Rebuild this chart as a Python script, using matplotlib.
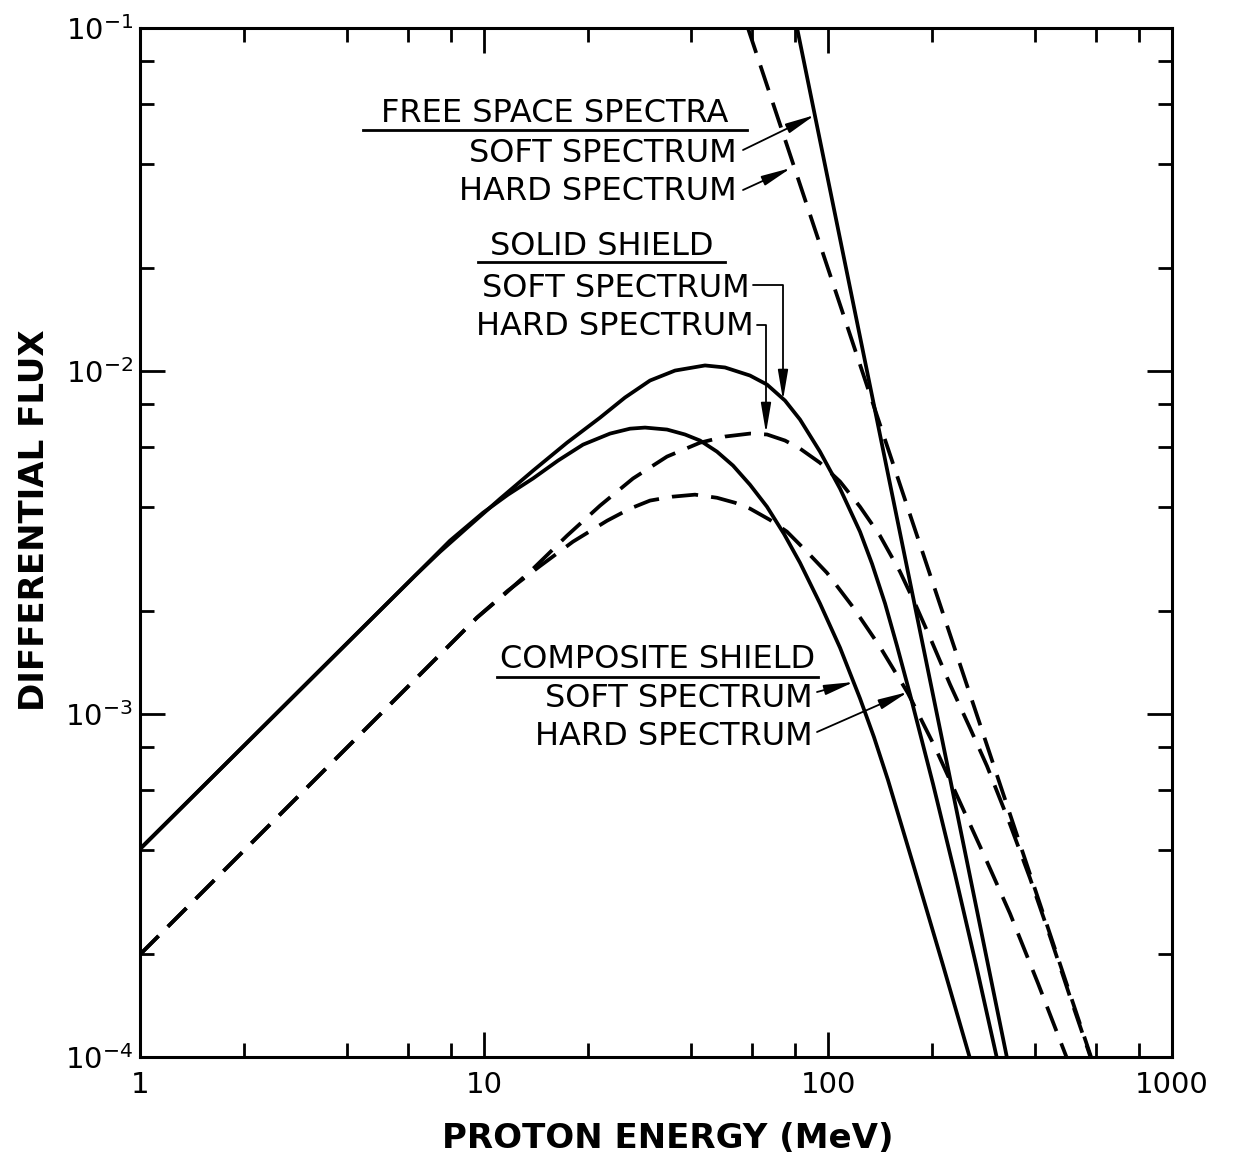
import matplotlib
matplotlib.use("Agg")
import matplotlib.pyplot as plt
from matplotlib.ticker import FixedLocator, LogLocator, NullFormatter

# Energia del proton (MeV) y flujo diferencial
free_soft_e = [81.3, 138.8, 331.0]
free_soft_f = [1.0e-1, 7.2e-3, 1.0e-4]

free_hard_e = [58.5, 141.6, 581.6]
free_hard_f = [1.0e-1, 6.98e-3, 1.0e-4]

solid_soft_e = [1.0, 6.30, 7.45, 8.93, 11.13, 13.88, 17.43, 21.74, 25.70, 30.38, 35.92,
                43.90, 50.18, 59.33, 66.48, 74.99, 82.91, 94.78, 108.4, 123.9, 134.3,
                146.5, 158.7, 173.2, 202.0, 234.0, 269.3, 309.9]
solid_soft_f = [4.04e-4, 2.53e-3, 2.97e-3, 3.49e-3, 4.24e-3, 5.12e-3, 6.18e-3, 7.31e-3,
                8.37e-3, 9.38e-3, 1.003e-2, 1.038e-2, 1.024e-2, 9.70e-3, 9.13e-3, 8.20e-3,
                7.22e-3, 5.82e-3, 4.54e-3, 3.40e-3, 2.74e-3, 2.10e-3, 1.58e-3, 1.14e-3,
                6.25e-4, 3.41e-4, 1.86e-4, 9.9e-5]

solid_hard_e = [1.0, 9.54, 11.51, 13.88, 17.43, 21.74, 27.11, 34.04, 42.46, 50.18, 59.33,
                66.48, 74.99, 82.91, 94.78, 108.4, 123.9, 141.6, 161.9, 179.0, 198.0,
                226.3, 258.7, 289.9, 338.1, 386.6, 441.8, 505.1, 581.6]
solid_hard_f = [1.99e-4, 1.91e-3, 2.24e-3, 2.65e-3, 3.31e-3, 4.05e-3, 4.86e-3, 5.63e-3,
                6.18e-3, 6.44e-3, 6.57e-3, 6.53e-3, 6.27e-3, 5.94e-3, 5.40e-3, 4.76e-3,
                4.02e-3, 3.31e-3, 2.60e-3, 2.10e-3, 1.67e-3, 1.22e-3, 9.10e-4, 7.05e-4,
                4.77e-4, 3.32e-4, 2.25e-4, 1.50e-4, 9.9e-5]

comp_soft_e = [1.0, 6.30, 7.96, 9.93, 11.74, 13.88, 16.41, 19.40, 23.25, 26.58, 29.38,
               34.04, 38.39, 42.46, 47.56, 52.95, 59.33, 66.48, 74.49, 82.91, 94.78,
               108.4, 123.9, 136.0, 149.4, 179.0, 216.0, 258.7]
comp_soft_f = [4.04e-4, 2.53e-3, 3.20e-3, 3.86e-3, 4.36e-3, 4.86e-3, 5.48e-3, 6.10e-3,
               6.57e-3, 6.79e-3, 6.84e-3, 6.75e-3, 6.53e-3, 6.27e-3, 5.82e-3, 5.30e-3,
               4.66e-3, 4.02e-3, 3.35e-3, 2.76e-3, 2.10e-3, 1.56e-3, 1.11e-3, 8.57e-4,
               6.42e-4, 3.50e-4, 1.85e-4, 9.9e-5]

comp_hard_e = [1.0, 9.54, 11.74, 14.55, 18.14, 22.79, 26.58, 30.38, 35.20, 41.05, 47.56,
               53.66, 59.33, 67.82, 76.0, 86.9, 99.3, 118.2, 141.6, 170.8, 204.6, 241.9,
               286.1, 338.1, 407.8, 495.3]
comp_hard_f = [1.99e-4, 1.91e-3, 2.29e-3, 2.70e-3, 3.18e-3, 3.66e-3, 3.97e-3, 4.19e-3,
               4.30e-3, 4.36e-3, 4.27e-3, 4.13e-3, 3.97e-3, 3.68e-3, 3.40e-3, 2.97e-3,
               2.58e-3, 2.05e-3, 1.57e-3, 1.15e-3, 8.01e-4, 5.53e-4, 3.82e-4, 2.62e-4,
               1.64e-4, 9.9e-5]

x_ticks = [1, 10, 100, 1000]
x_labels = ["1", "10", "100", "1000"]
y_ticks = [1e-4, 1e-3, 1e-2, 1e-1]
y_labels = [r"$10^{-4}$", r"$10^{-3}$", r"$10^{-2}$", r"$10^{-1}$"]

# marco del grafico en pixeles de la imagen de referencia
W, H = 1238, 1154
X0, X1, Y0, Y1 = 140, 1172, 28, 1057


def pos(x, y):
    """Pixel de la referencia -> fraccion de ejes."""
    return ((x - X0) / (X1 - X0), (Y1 - y) / (Y1 - Y0))


plt.rcParams["font.family"] = ["DejaVu Sans"]

fig = plt.figure(figsize=(W / 100, H / 100), dpi=100)
ax = fig.add_axes([X0 / W, 1 - Y1 / H, (X1 - X0) / W, (Y1 - Y0) / H])

LW = 2.7
DASH = (7, 3.5)
estilo = dict(color="k", lw=LW, solid_joinstyle="round", dash_joinstyle="round")
ax.plot(free_soft_e, free_soft_f, **estilo)
ax.plot(free_hard_e, free_hard_f, dashes=DASH, **estilo)
ax.plot(solid_soft_e, solid_soft_f, **estilo)
ax.plot(solid_hard_e, solid_hard_f, dashes=DASH, **estilo)
ax.plot(comp_soft_e, comp_soft_f, **estilo)
ax.plot(comp_hard_e, comp_hard_f, dashes=DASH, **estilo)

ax.set_xscale("log")
ax.set_yscale("log")
ax.set_xlim(1, 1000)
ax.set_ylim(1e-4, 1e-1)

ax.xaxis.set_major_locator(FixedLocator(x_ticks))
ax.set_xticklabels(x_labels)
ax.yaxis.set_major_locator(FixedLocator(y_ticks))
ax.set_yticklabels(y_labels)
for axis in (ax.xaxis, ax.yaxis):
    axis.set_minor_locator(LogLocator(base=10, subs=(2, 4, 6, 8)))
    axis.set_minor_formatter(NullFormatter())

ax.tick_params(which="both", direction="in", top=True, right=True, width=2, labelsize=21)
ax.tick_params(which="major", length=18)
ax.tick_params(which="minor", length=10)
ax.tick_params(axis="x", pad=10)
ax.tick_params(axis="y", pad=5)
for s in ax.spines.values():
    s.set_linewidth(2.2)

ax.set_xlabel("PROTON ENERGY (MeV)", fontsize=24.5, fontweight="bold")
ax.set_ylabel("DIFFERENTIAL FLUX", fontsize=24.5, fontweight="bold")
ax.xaxis.set_label_coords(0.5116, -0.0627)
ax.yaxis.set_label_coords(-0.0866, 0.522)

TXT = 23


def header(text, x1, x2, ytxt, yline):
    ax.text(*pos((x1 + x2) / 2, ytxt), text, transform=ax.transAxes,
            ha="center", va="baseline", fontsize=TXT)
    a, b = pos(x1, yline), pos(x2, yline)
    ax.plot([a[0], b[0]], [a[1], b[1]], transform=ax.transAxes, color="k", lw=2)


def label(text, x, y):
    ax.text(*pos(x, y), text, transform=ax.transAxes, ha="right", va="baseline",
            fontsize=TXT)


def arrow(start, tip, conn="arc3"):
    ax.annotate("", xy=pos(*tip), xytext=pos(*start),
                xycoords="axes fraction", textcoords="axes fraction",
                arrowprops=dict(arrowstyle="-|>,head_length=1.0,head_width=0.17",
                                mutation_scale=18, lw=1.3, color="k",
                                shrinkA=0, shrinkB=0, connectionstyle=conn))


header("FREE SPACE SPECTRA", 363, 747, 122, 130)
label("SOFT SPECTRUM", 737, 162)
label("HARD SPECTRUM", 737, 200)
arrow((743, 150), (815, 115))
arrow((743, 190), (791, 168))

header("SOLID SHIELD", 478, 725, 255, 262)
label("SOFT SPECTRUM", 750, 297)
label("HARD SPECTRUM", 754, 335)
arrow((753, 285), (783, 400), "angle,angleA=0,angleB=90,rad=0")
arrow((757, 325), (766, 433), "angle,angleA=0,angleB=90,rad=0")

header("COMPOSITE SHIELD", 497, 818, 668, 677)
label("SOFT SPECTRUM", 813, 707)
label("HARD SPECTRUM", 813, 745)
arrow((817, 692), (854, 682))
arrow((817, 732), (908, 692))

fig.savefig("out.png", dpi=100)
